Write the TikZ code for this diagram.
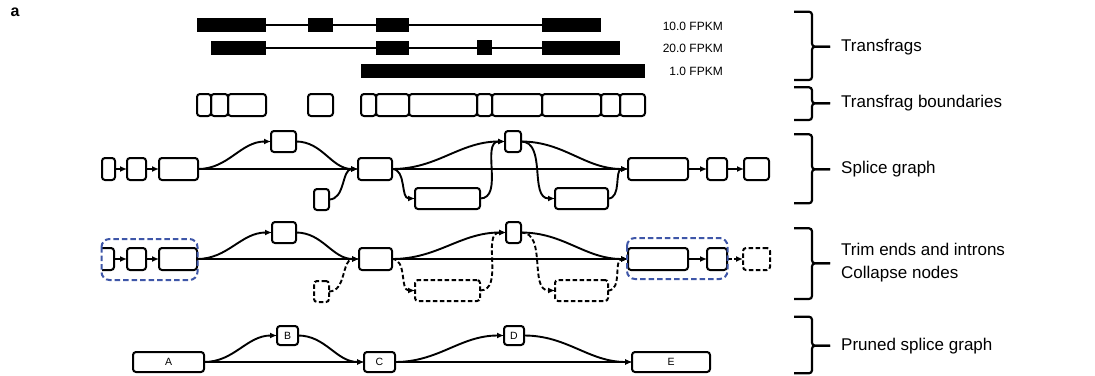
\documentclass[tikz,border=0pt]{standalone}
\usepackage{fontspec}
\setmainfont{Liberation Sans}
\usetikzlibrary{arrows.meta}
\definecolor{bluedash}{RGB}{62,86,168}
\newcommand{\gn}[7][]{\node[gnode,#1,minimum width={(#4)-(#3)},minimum height={(#6)-(#5)}] (#2) at ({((#3)+(#4))/2},{((#5)+(#6))/2}) {#7};}
\newcommand{\brk}[4]{%
  \draw[brk] (794,#1) -- (812,#1) -- (812,#3) -- (830,#3);
  \draw[brk] (794,#2) -- (812,#2) -- (812,#3) -- (830,#3);}
\begin{document}
\begin{tikzpicture}[x=1pt,y=-1pt,
  gnode/.style={draw, line width=2pt, rounded corners=3pt, inner sep=0pt, outer sep=0pt, fill=white, font=\fontsize{10.5}{12}\selectfont},
  dnode/.style={gnode, dash pattern=on 4.5pt off 2.5pt},
  ed/.style={line width=1.9pt, -{Latex[length=7pt,width=6pt]}},
  ded/.style={ed, dash pattern=on 4.5pt off 2.5pt},
  bnode/.style={draw, line width=2pt, rounded corners=3pt},
  brk/.style={line width=2.2pt, rounded corners=3pt},
  lab/.style={anchor=west, font=\fontsize{17}{23}\selectfont, align=left, inner sep=0pt},
  fpkm/.style={anchor=east, font=\fontsize{12}{13}\selectfont, inner sep=0pt},
  bluebox/.style={draw=bluedash, line width=2pt, rounded corners=8pt, dash pattern=on 5.5pt off 3pt}
]
\useasboundingbox (0,0) rectangle (1095,375);
\node[font=\bfseries\fontsize{16}{18}\selectfont] (lbl) at (15,12) {a};

% transfrags
\draw[line width=1.2pt] (197,25) -- (601,25);
\foreach \a/\b in {197/266,308/333,376/409,542/601} \fill (\a,18) rectangle (\b,32);
\draw[line width=1.2pt] (211,48) -- (620,48);
\foreach \a/\b in {211/266,376/409,542/620} \fill (\a,41) rectangle (\b,55);
\fill (477,40) rectangle (492,55);
\fill (361,64) rectangle (645,78);
\node[fpkm] (f1) at (723,26) {10.0 FPKM};
\node[fpkm] (f2) at (723,48) {20.0 FPKM};
\node[fpkm] (f3) at (723,71) {1.0 FPKM};

% boundaries
\foreach \a/\b in {197/211,211/228,228/266,308/333,361/376,376/409,409/477,477/492,492/542,542/601,601/620,620/645}
  \draw[bnode] (\a,94) rectangle (\b,116);

% splice graph
\gn{s1}{102}{115}{158}{180}{}
\gn{s2}{127}{146}{158}{180}{}
\gn{s3}{159}{198}{158}{180}{}
\gn{sB}{271}{296}{131}{152}{}
\gn{ss}{314}{329}{189}{210}{}
\gn{sC}{358}{392}{158}{180}{}
\gn{sL1}{415}{480}{188}{209}{}
\gn{sD}{505}{521}{131}{152}{}
\gn{sL2}{555}{608}{188}{209}{}
\gn{sE}{628}{688}{158}{180}{}
\gn{s6}{707}{727}{158}{180}{}
\gn{s7}{744}{769}{158}{180}{}
\draw[ed] (s1) -- (s2);
\draw[ed] (s2) -- (s3);
\draw[ed] (s3.east) to[out=0,in=180] (sB.west);
\draw[ed] (sB.east) to[out=0,in=180] (sC.west);
\draw[ed] (s3) -- (sC);
\draw[ed] (ss.east) to[out=0,in=180] (sC.west);
\draw[ed] (sC.east) to[out=0,in=180] (sL1.west);
\draw[ed] (sC.east) to[out=0,in=180] (sD.west);
\draw[ed] (sC) -- (sE);
\draw[ed] (sL1.east) to[out=0,in=180] (sD.west);
\draw[ed] (sD.east) to[out=0,in=180] (sL2.west);
\draw[ed] (sD.east) to[out=0,in=180] (sE.west);
\draw[ed] (sL2.east) to[out=0,in=180] (sE.west);
\draw[ed] (sE) -- (s6);
\draw[ed] (s6) -- (s7);

% trim row
\node[gnode, draw=none, fill=none, minimum width=12, minimum height=22] (t1) at (108,259) {};
\draw[line width=2pt, rounded corners=3pt] (t1.north west) -- (t1.north east) -- (t1.south east) -- (t1.south west);
\gn{t2}{127}{146}{248}{270}{}
\gn{t3}{159}{197}{248}{270}{}
\gn{tB}{272}{296}{222}{243}{}
\gn[dnode]{ts}{314}{329}{281}{302}{}
\gn{tC}{359}{392}{248}{270}{}
\gn[dnode]{tL1}{415}{480}{280}{301}{}
\gn{tD}{506}{521}{222}{243}{}
\gn[dnode]{tL2}{555}{608}{280}{301}{}
\gn{tE}{628}{688}{248}{270}{}
\gn{t6}{707}{727}{248}{270}{}
\gn[dnode]{t7}{743}{770}{248}{270}{}
\draw[ed] (t1) -- (t2);
\draw[ed] (t2) -- (t3);
\draw[ed] (t3.east) to[out=0,in=180] (tB.west);
\draw[ed] (tB.east) to[out=0,in=180] (tC.west);
\draw[ed] (t3) -- (tC);
\draw[ded] (ts.east) to[out=0,in=180] (tC.west);
\draw[ded] (tC.east) to[out=0,in=180] (tL1.west);
\draw[ed] (tC.east) to[out=0,in=180] (tD.west);
\draw[ed] (tC) -- (tE);
\draw[ded] (tL1.east) to[out=0,in=180] (tD.west);
\draw[ded] (tD.east) to[out=0,in=180] (tL2.west);
\draw[ed] (tD.east) to[out=0,in=180] (tE.west);
\draw[ded] (tL2.east) to[out=0,in=180] (tE.west);
\draw[ed] (tE) -- (t6);
\draw[ded] (t6) -- (t7);
\draw[bluebox] (101.5,239) rectangle (197.5,280);
\draw[bluebox] (627,238) rectangle (727.5,279);

% pruned
\gn{pA}{133}{204}{352}{372}{A}
\gn{pB}{277}{298}{326}{345}{B}
\gn{pC}{364}{395}{352}{372}{C}
\gn{pD}{504}{524}{326}{345}{D}
\gn{pE}{632}{710}{352}{372}{E}
\draw[ed] (pA.east) to[out=0,in=180] (pB.west);
\draw[ed] (pB.east) to[out=0,in=180] (pC.west);
\draw[ed] (pA) -- (pC);
\draw[ed] (pC.east) to[out=0,in=180] (pD.west);
\draw[ed] (pD.east) to[out=0,in=180] (pE.west);
\draw[ed] (pC) -- (pE);

% brackets and labels
\brk{11.7}{80}{46.7}{}
\brk{87.3}{120}{103.3}{}
\brk{134.3}{203.3}{169.3}{}
\brk{228.3}{299}{263.3}{}
\brk{316.7}{373.3}{345.7}{}
\node[lab] (L1) at (841,46.7) {Transfrags};
\node[lab] (L2) at (841,103.3) {Transfrag boundaries};
\node[lab] (L3) at (841,169.3) {Splice graph};
\node[lab] (L4) at (841,263) {Trim ends and introns\\Collapse nodes};
\node[lab] (L5) at (841,345.7) {Pruned splice graph};
\end{tikzpicture}
\end{document}
